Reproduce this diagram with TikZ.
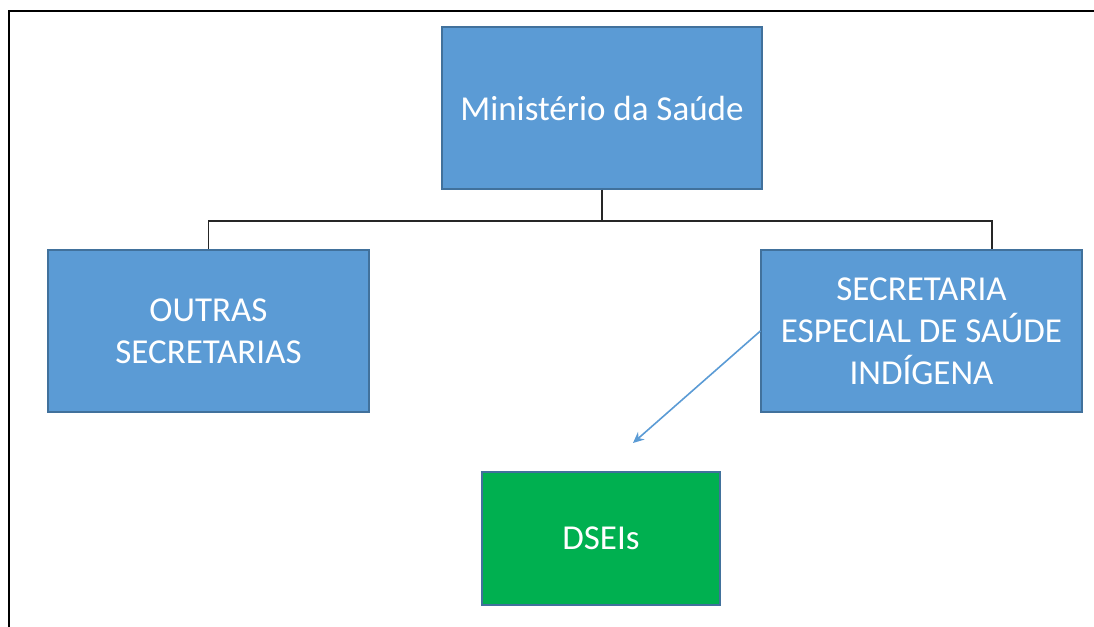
\documentclass[tikz,border=0pt]{standalone}
\usepackage{fontspec}
\setmainfont{Carlito}
\usetikzlibrary{arrows.meta}
\definecolor{boxblue}{HTML}{5B9BD5}
\definecolor{boxedge}{HTML}{41719C}
\definecolor{boxgreen}{HTML}{00B050}
\definecolor{linegray}{HTML}{262626}
\begin{document}
\begin{tikzpicture}[x=1pt,y=-1pt,
  orgbox/.style={rectangle, draw=boxedge, line width=1.2pt, fill=boxblue, text=white,
    align=center, inner sep=0pt,
    font=\fontsize{35}{42}\selectfont},
  greenbox/.style={orgbox, fill=boxgreen},
  tree/.style={draw=linegray, line width=1.6pt},
  frame/.style={draw=black, line width=2.4pt}]
\useasboundingbox (0,0) rectangle (1094,626);
\draw[frame] (9,630) -- (9,11) -- (1094,11);
\node[orgbox, minimum width=320pt, minimum height=162pt] (min) at (602,108) {Ministério da Saúde};
\node[orgbox, minimum width=321pt, minimum height=162pt] (outras) at (208.5,331) {OUTRAS\\SECRETARIAS};
\node[orgbox, minimum width=321pt, minimum height=162pt] (sec) at (921.5,331) {SECRETARIA\\ESPECIAL DE SAÚDE\\INDÍGENA};
\node[greenbox, minimum width=238pt, minimum height=133pt] (dsei) at (601,538.5) {DSEIs};
\coordinate (bus) at (602,221);
\draw[tree] (min.south) -- (bus) -| (outras.north);
\draw[tree] (bus) -| ([xshift=70.5pt]sec.north);
\coordinate (tip) at (633,443);
\draw[draw=boxblue, line width=1.6pt, -{Stealth[length=11pt,width=10pt]}] (sec.west) -- (tip);
\end{tikzpicture}
\end{document}
